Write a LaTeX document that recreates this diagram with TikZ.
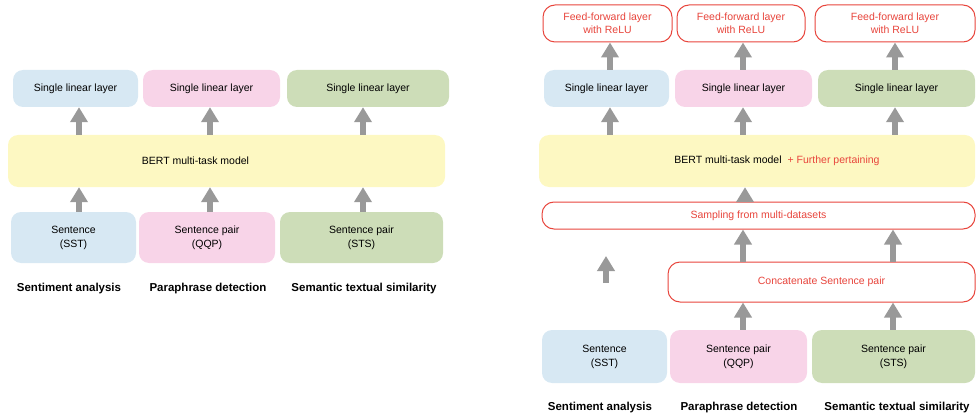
\documentclass[tikz,border=0pt]{standalone}
\usepackage{fontspec}
\setmainfont{Liberation Sans}
\usepackage{tikz}
\usetikzlibrary{arrows.meta}
\definecolor{cblue}{HTML}{D7E8F3}
\definecolor{cpink}{HTML}{F8D4E8}
\definecolor{cgreen}{HTML}{CDDDB8}
\definecolor{cyellow}{HTML}{FDF8C2}
\definecolor{cred}{HTML}{E8453C}
\definecolor{carrow}{HTML}{999999}
\begin{document}
\begin{tikzpicture}[x=1pt,y=-1pt,
    box/.style={rounded corners=10pt,inner sep=0pt,align=center,
        font=\fontsize{10.5}{14}\selectfont},
    redbox/.style={box,draw=cred,line width=1pt,fill=white,text=cred,rounded corners=12pt,
        font=\fontsize{10.5}{13}\selectfont},
    task/.style={font=\fontsize{11.5}{13}\selectfont\bfseries},
    up/.style={draw=carrow,line width=5.5pt,-{Triangle[width=17pt,length=15pt]}}]
\useasboundingbox (0,0) rectangle (976,414);
% left: baseline model
\node[box,fill=cblue,minimum width=125,minimum height=37] (lin1) at (75.5,88.5) {Single linear layer};
\node[box,fill=cpink,minimum width=137,minimum height=37] (lin2) at (211.5,88.5) {Single linear layer};
\node[box,fill=cgreen,minimum width=162,minimum height=37] (lin3) at (368,88.5) {Single linear layer};
\node[box,fill=cyellow,minimum width=437,minimum height=52,
    label={[xshift=-31pt,font=\fontsize{10.5}{14}\selectfont]center:BERT multi-task model}] (bert) at (226.5,161) {};
\node[box,fill=cblue,minimum width=125,minimum height=51] (sst1) at (73.5,237.5) {Sentence\\(SST)};
\node[box,fill=cpink,minimum width=136,minimum height=51] (qqp1) at (207,237.5) {Sentence pair\\(QQP)};
\node[box,fill=cgreen,minimum width=163,minimum height=51] (sts1) at (361.5,237.5) {Sentence pair\\(STS)};
\node[task] (t1) at (69,289) {Sentiment analysis};
\node[task] (t2) at (208,289) {Paraphrase detection};
\node[task] (t3) at (364,289) {Semantic textual similarity};
\draw[up] (sst1.north -| 79,0) -- (bert.south -| 79,0);
\draw[up] (qqp1.north -| 210,0) -- (bert.south -| 210,0);
\draw[up] (sts1.north -| 363,0) -- (bert.south -| 363,0);
\draw[up] (bert.north -| 79,0) -- (lin1.south -| 79,0);
\draw[up] (bert.north -| 210,0) -- (lin2.south -| 210,0);
\draw[up] (bert.north -| 363,0) -- (lin3.south -| 363,0);
% right: extended model
\node[redbox,minimum width=129,minimum height=37] (ff1) at (607.5,23.5) {Feed-forward layer\\with ReLU};
\node[redbox,minimum width=128,minimum height=37] (ff2) at (741,23.5) {Feed-forward layer\\with ReLU};
\node[redbox,minimum width=160,minimum height=37] (ff3) at (895,23.5) {Feed-forward layer\\with ReLU};
\node[box,fill=cblue,minimum width=125,minimum height=37] (lin1r) at (606.5,88.5) {Single linear layer};
\node[box,fill=cpink,minimum width=137,minimum height=37] (lin2r) at (743.5,88.5) {Single linear layer};
\node[box,fill=cgreen,minimum width=157,minimum height=37] (lin3r) at (896.5,88.5) {Single linear layer};
\node[box,fill=cyellow,minimum width=436,minimum height=52,
    label={[xshift=20pt,font=\fontsize{10.5}{14}\selectfont]center:BERT multi-task model\hspace{6pt}\textcolor{cred}{+ Further pertaining}}] (bertr) at (757,161) {};
\node[redbox,minimum width=433,minimum height=27] (samp) at (758.5,215.5) {Sampling from multi-datasets};
\node[redbox,minimum width=307,minimum height=40] (concat) at (821.5,282) {Concatenate Sentence pair};
\node[box,fill=cblue,minimum width=125,minimum height=53] (sst2) at (604.5,356.5) {Sentence\\(SST)};
\node[box,fill=cpink,minimum width=137,minimum height=53] (qqp2) at (738.5,356.5) {Sentence pair\\(QQP)};
\node[box,fill=cgreen,minimum width=163,minimum height=53] (sts2) at (893.5,356.5) {Sentence pair\\(STS)};
\node[task] (t4) at (600,408) {Sentiment analysis};
\node[task] (t5) at (739,408) {Paraphrase detection};
\node[task] (t6) at (897,408) {Semantic textual similarity};
\coordinate (skipA) at (606,283);
\coordinate (skipB) at (606,256);
\draw[up] (skipA) -- (skipB);
\draw[up] (qqp2.north -| 743,0) -- (concat.south -| 743,0);
\draw[up] (sts2.north -| 893,0) -- (concat.south -| 893,0);
\draw[up] (concat.north -| 743,0) -- (samp.south -| 743,0);
\draw[up] (concat.north -| 893,0) -- (samp.south -| 893,0);
\draw[up] (samp.north -| 745,0) -- (bertr.south -| 745,0);
\draw[up] (bertr.north -| 610,0) -- (lin1r.south -| 610,0);
\draw[up] (bertr.north -| 743,0) -- (lin2r.south -| 743,0);
\draw[up] (bertr.north -| 895,0) -- (lin3r.south -| 895,0);
\draw[up] (lin1r.north -| 610,0) -- (ff1.south -| 610,0);
\draw[up] (lin2r.north -| 743,0) -- (ff2.south -| 743,0);
\draw[up] (lin3r.north -| 895,0) -- (ff3.south -| 895,0);
\end{tikzpicture}
\end{document}
